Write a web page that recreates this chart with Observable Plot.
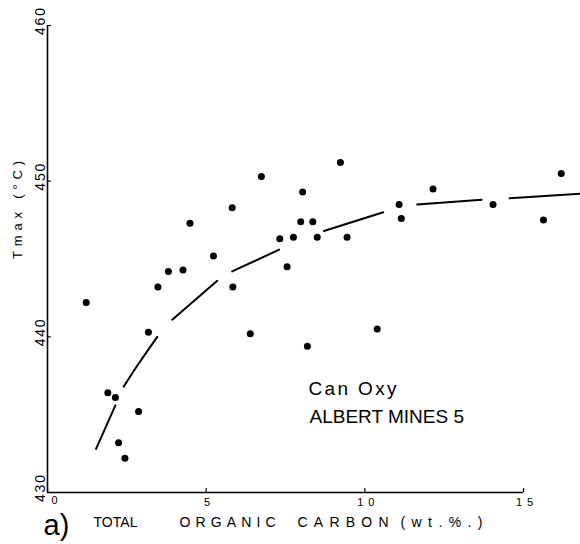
<!DOCTYPE html>
<html>
<head>
<meta charset="utf-8">
<script src="https://cdn.jsdelivr.net/npm/d3@7"></script>
<script src="https://cdn.jsdelivr.net/npm/@observablehq/plot@0.6"></script>
<style>
  html, body { margin: 0; padding: 0; background: #fff; }
  #chart svg { display: block; }
</style>
</head>
<body>
<div id="chart"></div>
<script>
// Tmax versus total organic carbon, Can Oxy Albert Mines 5 well
const toc = [1.22, 1.90, 2.14, 2.24, 2.44, 2.87, 3.18, 3.48, 3.81, 4.27, 4.49, 5.23, 5.82, 5.84, 6.39, 6.74, 7.32, 7.55, 7.75, 7.98, 8.04, 8.19, 8.36, 8.50, 9.23, 9.44, 10.39, 11.08, 11.15, 12.15, 14.04, 15.63, 16.19];
const tmax = [442.2, 436.4, 436.1, 433.2, 432.2, 435.2, 440.3, 443.2, 444.2, 444.3, 447.3, 445.2, 448.3, 443.2, 440.2, 450.3, 446.3, 444.5, 446.4, 447.4, 449.3, 439.4, 447.4, 446.4, 451.2, 446.4, 440.5, 448.5, 447.6, 449.5, 448.5, 447.5, 450.5];

// hand-drawn trend curve, drawn as separate dashes
const curveToc  = [1.53, 2.14, 2.40, 2.88, 3.46, 3.93, 5.35, 5.82, 7.30, 8.71, 10.58, 11.65, 13.68, 14.56, 16.80];
const curveTmax = [432.8, 435.6, 436.8, 438.3, 440.0, 441.1, 443.6, 444.2, 445.6, 446.8, 448.0, 448.5, 448.8, 448.9, 449.2];
const curveDash = [1, 1, 2, 2, 2, 3, 3, 4, 4, 5, 5, 6, 6, 7, 7];

const xTicks = [0, 5, 10, 15];
const yTicks = [430, 440, 450, 460];
const yLabel = "Tmax (°C)";
const xLabelWords = ["TOTAL", "ORGANIC", "CARBON", "(wt.%.)"];
const panelTag = "a)";
const wellLines = ["Can Oxy", "ALBERT MINES 5"];

const samples = toc.map((x, i) => ({toc: x, tmax: tmax[i]}));
const curve = curveToc.map((x, i) => ({toc: x, tmax: curveTmax[i], dash: curveDash[i]}));

const ink = "#000";
const wordOffsets = [46, 132, 250, 353];

const svg = Plot.plot({
  width: 580,
  height: 544,
  marginLeft: 47,
  marginRight: 57,
  marginTop: 25,
  marginBottom: 52,
  style: {background: "#fff", fontFamily: "'Liberation Sans', Arial, sans-serif", color: ink},
  x: {domain: [0, 15], axis: null},
  y: {domain: [430, 460], axis: null},
  marks: [
    // axes frame
    Plot.ruleX([0], {stroke: ink, strokeWidth: 1.6}),
    Plot.ruleY([430], {stroke: ink, strokeWidth: 1.6}),
    Plot.ruleX(xTicks, {x: d => d, y1: 430, y2: 430.25, stroke: ink, strokeWidth: 1.2}),
    Plot.ruleY(yTicks, {y: d => d, x1: 0, x2: 0.12, stroke: ink, strokeWidth: 1.2}),
    // tick labels
    Plot.text(xTicks.filter(d => d === 0), {x: d => d, y: 430, text: d => String(d), dy: 8, dx: 7, fontSize: 11, fill: ink}),
    Plot.text(xTicks.filter(d => d !== 0), {x: d => d, y: 430, text: d => String(d), dy: 10, dx: 1, fontSize: 11, fill: ink}),
    Plot.text(yTicks, {x: 0, y: d => d, text: d => String(d), rotate: -90, dx: -7, dy: -4, fontSize: 14, fill: ink}),
    // axis titles
    Plot.text([yLabel], {text: d => d, frameAnchor: "left", rotate: -90, dx: -30, fontSize: 13, fill: ink}),
    ...xLabelWords.map((w, i) => Plot.text([w], {text: d => d, frameAnchor: "bottom-left", textAnchor: "start", lineAnchor: "bottom", dx: wordOffsets[i], dy: 34, fontSize: 14, fill: ink})),
    Plot.text([panelTag], {text: d => d, frameAnchor: "bottom-left", textAnchor: "start", lineAnchor: "bottom", dx: -4, dy: 42, fontSize: 29, fill: ink}),
    // well annotation
    Plot.text([wellLines[0]], {text: d => d, frameAnchor: "top-left", textAnchor: "start", lineAnchor: "bottom", dx: 261, dy: 369, fontSize: 19, fill: ink}),
    Plot.text([wellLines[1]], {text: d => d, frameAnchor: "top-left", textAnchor: "start", lineAnchor: "bottom", dx: 262, dy: 397, fontSize: 19, fill: ink}),
    // trend curve and samples
    Plot.line(curve, {x: "toc", y: "tmax", z: "dash", stroke: ink, strokeWidth: 2, strokeLinecap: "round", curve: "catmull-rom"}),
    Plot.dot(samples, {x: "toc", y: "tmax", r: 3.5, fill: ink, stroke: "none"})
  ]
});

// spread the lettering to the widths of the original hand lettering
const spans = {
  "Tmax (°C)": 98, "TOTAL": 44, "ORGANIC": 96, "CARBON": 91, "(wt.%.)": 82,
  "Can Oxy": 88, "430": 27, "440": 27, "450": 27, "460": 27, "10": 17, "15": 17
};
svg.querySelectorAll("text").forEach(t => {
  const len = spans[t.textContent];
  if (len) {
    t.setAttribute("textLength", len);
    t.setAttribute("lengthAdjust", "spacing");
  }
});

document.getElementById("chart").appendChild(svg);
</script>
</body>
</html>
